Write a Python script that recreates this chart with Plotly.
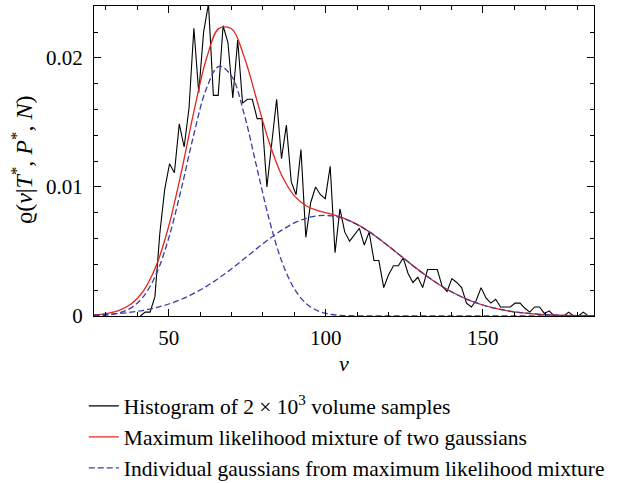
import numpy as np
import plotly.graph_objects as go

# ---- Histogram (density) of 2e3 volume samples: regular bins ----
bin_first_center = 40.95
bin_width = 1.55
hist_density = [
    0.0, 0.0003, 0.0003, 0.0015, 0.0064, 0.0098, 0.0118, 0.0111, 0.0149, 0.0131,
    0.0161, 0.0223, 0.0173, 0.0220, 0.0242, 0.0171, 0.0171, 0.0225, 0.0212, 0.0169,
    0.0214, 0.0165, 0.0168, 0.0168, 0.0153, 0.0153, 0.0100, 0.0134, 0.0168, 0.0122,
    0.0148, 0.0104, 0.0094, 0.0129, 0.0061, 0.0088, 0.0100, 0.0094, 0.0091, 0.0116,
    0.0049, 0.0083, 0.0065, 0.0058, 0.0063, 0.0068, 0.0055, 0.0065, 0.0043, 0.0043,
    0.0022, 0.0032, 0.0039, 0.0039, 0.0045, 0.0033, 0.0026, 0.0030, 0.0022, 0.0036,
    0.0036, 0.0036, 0.0023, 0.0019, 0.0029, 0.0026, 0.0022, 0.0010, 0.0007, 0.0012,
    0.0022, 0.0014, 0.0010, 0.0013, 0.0007, 0.0007, 0.0007, 0.0010, 0.0010, 0.0006,
    0.0003, 0.0007, 0.0007, 0.0002, 0.0004, 0.0, 0.0, 0.0, 0.0003, 0.0,
    0.0, 0.0003, 0.0, 0.0,
]
hist_v = [bin_first_center + bin_width * k for k in range(len(hist_density))]

curve_v = [26, 30, 34, 38, 42, 46, 50, 54, 58, 62, 66, 70, 74, 78, 82, 86, 90, 94,
           98, 102, 106, 110, 114, 118, 122, 126, 130, 134, 138, 142, 146, 150,
           154, 158, 162, 166, 170, 174, 178, 182, 186]
mixture = [0.000092, 0.000190, 0.000415, 0.000923, 0.001971, 0.003895, 0.006975,
           0.011152, 0.015836, 0.019940, 0.022292, 0.022261, 0.020095, 0.016776,
           0.013447, 0.010889, 0.009312, 0.008510, 0.008133, 0.007874, 0.007553,
           0.007097, 0.006501, 0.005796, 0.005026, 0.004240, 0.003479, 0.002776,
           0.002154, 0.001626, 0.001194, 0.000853, 0.000592, 0.000400, 0.000263,
           0.000168, 0.000104, 0.000063, 0.000037, 0.000021, 0.000012]
gauss_narrow = [0.000020, 0.000072, 0.000227, 0.000630, 0.001529, 0.003245, 0.006045,
                0.009859, 0.014086, 0.017639, 0.019348, 0.018597, 0.015659, 0.011554,
                0.007467, 0.004230, 0.002099, 0.000912, 0.000348, 0.000116, 0.000034,
                0.000009, 0.000002, 0.0, 0.0, 0.0, 0.0, 0.0, 0.0, 0.0, 0.0, 0.0,
                0.0, 0.0, 0.0, 0.0, 0.0, 0.0, 0.0, 0.0, 0.0]
gauss_broad = [0.000072, 0.000118, 0.000188, 0.000293, 0.000442, 0.000650, 0.000930,
               0.001293, 0.001750, 0.002301, 0.002944, 0.003664, 0.004436, 0.005222,
               0.005980, 0.006659, 0.007213, 0.007598, 0.007785, 0.007758, 0.007519,
               0.007088, 0.006499, 0.005796, 0.005026, 0.004240, 0.003479, 0.002776,
               0.002154, 0.001626, 0.001194, 0.000853, 0.000592, 0.000400, 0.000263,
               0.000168, 0.000104, 0.000063, 0.000037, 0.000021, 0.000012]

legend_names = [
    "Histogram of 2 × 10<sup>3</sup> volume samples",
    "Maximum likelihood mixture of two gaussians",
    "Individual gaussians from maximum likelihood mixture",
]
y_title = "ϱ(<i>v</i>|<i>T</i><sup>*</sup>, <i>P</i><sup>*</sup>, <i>N</i>)"
x_title = "<i>v</i>"

FONT = "Liberation Serif"
RED = "#e3261f"
BLUE = "#3b3ba6"

fig = go.Figure()
fig.add_trace(go.Scatter(x=hist_v, y=hist_density, mode="lines",
                         line=dict(color="black", width=1.1),
                         name=legend_names[0]))
fig.add_trace(go.Scatter(x=curve_v, y=mixture, mode="lines",
                         line=dict(color=RED, width=1.3, shape="spline"),
                         name=legend_names[1]))
fig.add_trace(go.Scatter(x=curve_v, y=gauss_narrow, mode="lines",
                         line=dict(color=BLUE, width=1.3, dash="6px,3px", shape="spline"),
                         name=legend_names[2]))
fig.add_trace(go.Scatter(x=curve_v, y=gauss_broad, mode="lines",
                         line=dict(color=BLUE, width=1.3, dash="6px,3px", shape="spline"),
                         name=legend_names[2], showlegend=False))

axis_common = dict(
    showline=True, linecolor="black", linewidth=1.2, mirror="ticks",
    ticks="inside", ticklen=7, tickwidth=1, tickcolor="black",
    showgrid=False, zeroline=False,
    tickfont=dict(family=FONT, size=21, color="black"),
)

fig.update_layout(
    width=630, height=483,
    margin=dict(l=94, r=36, t=6, b=167, autoexpand=False),
    paper_bgcolor="white", plot_bgcolor="white",
    font=dict(family=FONT, size=21, color="black"),
    xaxis=dict(range=[26.2, 185.4], tickvals=[50, 100, 150], ticklabelstandoff=3,
               minor=dict(ticks="inside", dtick=10, tick0=0, ticklen=4, tickcolor="black"),
               title=dict(text=x_title, font=dict(family=FONT, size=22), standoff=6),
               **axis_common),
    yaxis=dict(range=[0, 0.02403], tickvals=[0, 0.01, 0.02], ticklabelstandoff=6,
               ticktext=["0", "0.01", "0.02"],
               minor=dict(ticks="inside", dtick=0.002, tick0=0, ticklen=4, tickcolor="black"),
               **axis_common),
    legend=dict(xref="container", yref="container", x=0.133, xanchor="left",
                y=0.202, yanchor="top",
                font=dict(family=FONT, size=21.5), traceorder="normal",
                itemwidth=30, bgcolor="rgba(0,0,0,0)"),
    showlegend=True,
    annotations=[dict(text=y_title, textangle=-90, xref="paper", yref="paper",
                      x=-0.144, y=0.503, xanchor="center", yanchor="middle",
                      showarrow=False, font=dict(family=FONT, size=24, color="black"))],
)

fig.write_html("out.html")
